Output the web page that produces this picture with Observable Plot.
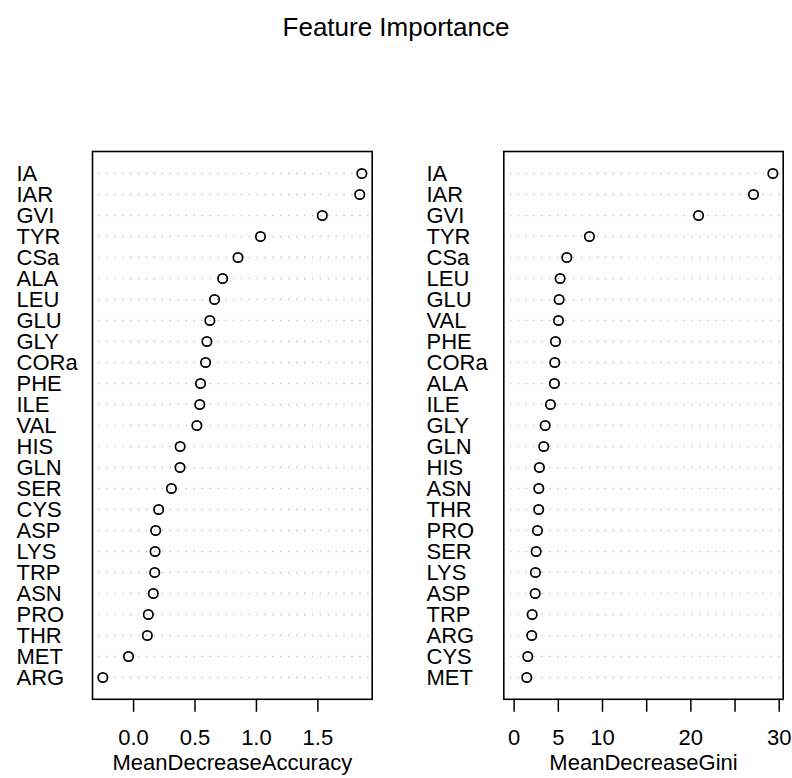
<!DOCTYPE html>
<html>
<head>
<meta charset="utf-8">
<script src="https://cdn.jsdelivr.net/npm/d3@7"></script>
<script src="https://cdn.jsdelivr.net/npm/@observablehq/plot@0.6"></script>
<style>
  html, body { margin: 0; padding: 0; background: #fff; }
  #wrap { width: 792px; font-family: "Liberation Sans", Arial, Helvetica, sans-serif; color: #000; }
  #title { box-sizing: border-box; height: 60px; padding-top: 14px; line-height: 26px; font-size: 26px; text-align: center; }
  #row { display: flex; flex-direction: row; width: 792px; }
  #row svg { display: block; }
</style>
</head>
<body>
<div id="wrap">
  <div id="title">Feature Importance</div>
  <div id="row"></div>
</div>
<script>
// Left panel: MeanDecreaseAccuracy (top to bottom)
const accLabels = ["IA","IAR","GVI","TYR","CSa","ALA","LEU","GLU","GLY","CORa","PHE","ILE","VAL","HIS","GLN","SER","CYS","ASP","LYS","TRP","ASN","PRO","THR","MET","ARG"];
const accValues = [1.858,1.841,1.536,1.033,0.850,0.725,0.659,0.621,0.597,0.586,0.545,0.539,0.515,0.379,0.378,0.308,0.204,0.180,0.175,0.172,0.161,0.120,0.112,-0.041,-0.250];
const accTicks = [0, 0.5, 1.0, 1.5];
const accTitle = "MeanDecreaseAccuracy";

// Right panel: MeanDecreaseGini (top to bottom)
const giniLabels = ["IA","IAR","GVI","TYR","CSa","LEU","GLU","VAL","PHE","CORa","ALA","ILE","GLY","GLN","HIS","ASN","THR","PRO","SER","LYS","ASP","TRP","ARG","CYS","MET"];
const giniValues = [29.28,27.09,20.87,8.52,5.96,5.20,5.09,5.02,4.68,4.60,4.56,4.11,3.51,3.35,2.86,2.79,2.78,2.64,2.49,2.41,2.38,2.04,1.99,1.54,1.43];
const giniTicks = [0, 5, 10, 15, 20, 25, 30];
const giniTickLabels = [0, 5, 10, 20, 30];
const giniTitle = "MeanDecreaseGini";

const FONT = "'Liberation Sans', Arial, Helvetica, sans-serif";

function pad4(lo, hi) {
  const e = (hi - lo) * 0.04;
  return [lo - e, hi + e];
}

function panel({labels, values, domain, ticks, tickFormat, title, marginLeft, marginRight, labelX}) {
  const data = labels.map((l, i) => ({label: l, value: values[i]}));
  return Plot.plot({
    width: 396,
    height: 718,
    marginTop: 91,
    marginBottom: 79.2,
    marginLeft,
    marginRight,
    style: {fontFamily: FONT, fontSize: "22px", background: "white", color: "black", overflow: "visible"},
    x: {domain},
    y: {type: "point", domain: labels, padding: 1, axis: null},
    marks: [
      Plot.ruleY(labels, {y: d => d, stroke: "#bebebe", strokeWidth: 1.3, strokeDasharray: "1.3 6.6", strokeDashoffset: 1.3}),
      Plot.dot(data, {x: "value", y: "label", r: 4.7, stroke: "black", strokeWidth: 1.7, fill: "none"}),
      Plot.frame({stroke: "black", strokeWidth: 1.6}),
      Plot.axisX({ticks, tickFormat, tickSize: 13, tickPadding: 16.6, label: null, fontSize: 22, strokeWidth: 1.5}),
      Plot.text(labels, {y: d => d, frameAnchor: "left", textAnchor: "start", lineAnchor: "middle", dx: labelX - marginLeft, fontSize: 22}),
      Plot.text([title], {frameAnchor: "bottom", lineAnchor: "bottom", dy: 70.2, fontSize: 22})
    ]
  });
}

const row = document.getElementById("row");
row.appendChild(panel({
  labels: accLabels,
  values: accValues,
  domain: pad4(d3.min(accValues), d3.max(accValues)),
  ticks: accTicks,
  tickFormat: d3.format(".1f"),
  title: accTitle,
  marginLeft: 92,
  marginRight: 24.3,
  labelX: 16
}));
row.appendChild(panel({
  labels: giniLabels,
  values: giniValues,
  domain: pad4(0, d3.max(giniValues)),
  ticks: giniTicks,
  tickFormat: d => giniTickLabels.includes(d) ? String(d) : "",
  title: giniTitle,
  marginLeft: 107.3,
  marginRight: 9.3,
  labelX: 30
}));
</script>
</body>
</html>
